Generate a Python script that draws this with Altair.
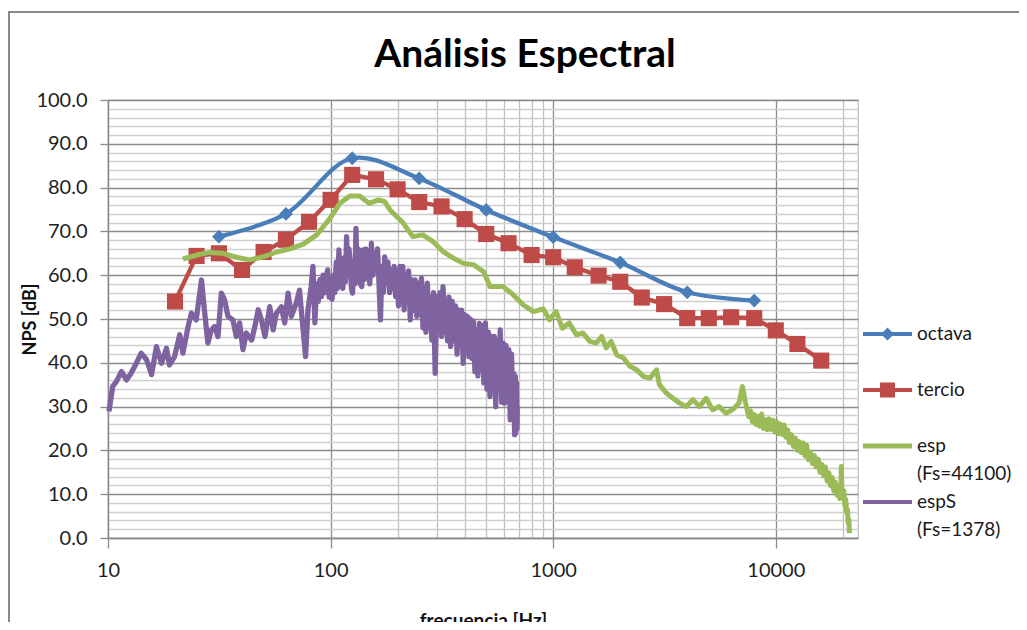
import altair as alt
import pandas as pd

# ---------------- data ----------------
oct_f = [31.5, 63, 125, 250, 500, 1000, 2000, 4000, 8000]
oct_v = [68.8, 74.0, 86.7, 82.1, 74.9, 68.7, 62.9, 56.1, 54.2]

ter_f = [20, 25, 31.5, 40, 50, 63, 80, 100, 125, 160, 200, 250, 315, 400, 500,
         630, 800, 1000, 1250, 1600, 2000, 2500, 3150, 4000, 5000, 6300, 8000,
         10000, 12500, 16000]
ter_v = [54.0, 64.4, 65.0, 61.2, 65.3, 68.1, 72.2, 77.2, 82.9, 81.9, 79.6, 76.7,
         75.7, 72.8, 69.4, 67.3, 64.6, 64.1, 61.8, 59.9, 58.5, 54.9, 53.4, 50.2,
         50.2, 50.4, 50.2, 47.4, 44.3, 40.5]

esp_f = [21.7, 25.0, 28.6, 32.9, 37.7, 43.3, 49.8, 57.2, 65.6, 75.4, 86.6, 99.4,
         110, 122, 135, 149, 164, 175, 185, 212, 234, 259, 288, 320, 356, 395,
         438, 487, 520, 596, 662, 735, 815, 903, 962, 1030, 1100, 1180, 1270,
         1360, 1460, 1560, 1650, 1730, 1820, 1930, 2070, 2210, 2370, 2540, 2720,
         2910, 3000, 3220, 3450, 3700, 3960, 4240, 4540, 4860, 5200, 5570, 5970,
         6390, 6840, 7080, 7300,
         7560, 7700, 7850, 8000, 8150, 8300, 8470, 8640, 8810, 8990, 9160, 9340,
         9530, 9720, 9910, 10100, 10300, 10500, 10700, 10900, 11100, 11300, 11500,
         11750, 12000, 12250, 12500, 12750, 13000, 13250, 13500, 13750, 14000,
         14300, 14600, 14900, 15200, 15500, 15800, 16100, 16400, 16700, 17000,
         17300, 17600, 17900, 18200, 18500, 18800, 19100, 19400, 19600, 19700,
         19800, 20000, 20200, 20400, 20600, 20800, 21000, 21150, 21300, 21400]
esp_v = [63.7, 64.6, 65.2, 65.0, 64.1, 63.5, 64.2, 65.3, 66.0, 67.1, 69.2, 73.0,
         76.4, 78.1, 78.1, 76.4, 77.2, 76.8, 74.9, 71.9, 68.8, 69.2, 67.7, 65.4,
         63.9, 62.7, 62.4, 60.8, 57.4, 57.4, 55.5, 53.2, 51.7, 52.3, 49.8, 51.7,
         47.9, 49.1, 46.4, 46.8, 44.9, 44.5, 46.0, 43.4, 44.9, 41.8, 41.1, 39.2,
         38.4, 36.9, 36.5, 38.4, 35.0, 33.1, 31.9, 30.8, 30.0, 31.6, 30.0, 31.9,
         29.3, 30.0, 28.5, 29.3, 30.8, 34.6, 31.0,
         27.7, 29.0, 26.5, 28.2, 25.9, 27.8, 25.5, 28.3, 25.0, 27.0, 24.7, 27.2,
         24.8, 26.9, 24.2, 26.5, 23.8, 26.0, 23.6, 25.8, 23.0, 24.7, 21.8,
         23.6, 20.9, 22.8, 20.0, 22.0, 19.5, 21.7, 18.8, 21.2, 17.9,
         19.6, 17.0, 18.8, 16.2, 18.0, 15.0, 16.8, 14.2, 16.2, 13.0,
         14.9, 12.0, 13.8, 10.8, 12.8, 9.8, 11.8, 9.0, 12.0, 16.3,
         10.5, 9.5, 10.8, 7.5, 8.8, 5.8, 6.5, 3.4, 4.2, 1.1]

esps_f = [10.1, 10.5, 10.9, 11.5, 12.1, 12.7, 13.4, 14.1, 14.9, 15.7, 16.5, 17.4,
          18.3, 18.9, 19.9, 21.0, 21.7, 22.9, 23.7, 24.9, 26.3, 27.2, 28.1, 29.1,
          30.1, 31.2, 32.3, 33.4, 34.6, 36.4, 37.7, 39.0, 40.4, 41.8, 44.2, 45.7,
          47.3, 48.9, 50.7, 53.3, 55.2, 57.1, 60.1, 62.2, 64.4, 66.6, 70.1, 72.5,
          75.0, 77.2, 79.1, 81.8,
          83.3, 85, 86.5, 88, 89.5, 91, 92.5, 94, 95.5, 97, 98.5, 100, 101.5, 103,
          104.5, 106, 107.5, 109, 110.5, 112, 113.5, 115, 116.5, 118, 119.5, 121,
          122.5, 124, 125.5, 127, 128.5, 130, 131.5, 133, 134.5, 136, 138, 140,
          142, 144, 146, 148, 150, 152.5, 155, 157.5, 160, 162.5, 165, 167.5, 170,
          172.5, 175, 178, 181, 184, 187, 190, 193, 196, 199, 202, 205, 208, 211,
          214, 217, 220, 224, 228, 232, 236, 240, 244, 248, 252, 256, 260, 264,
          268, 272, 276, 280, 285, 290, 295, 300, 305, 310, 315, 320, 325, 330,
          335, 340, 346, 352, 358, 364, 370, 376, 382, 388, 394, 400, 406, 412,
          418, 424, 431, 438, 445, 452, 459, 466, 473, 480, 488, 496, 504, 512,
          520, 528, 536, 544, 552, 560, 569, 578, 587, 596, 605, 614, 623, 632,
          641, 650, 658, 665, 671, 676, 680, 684, 687, 690]
esps_v = [28.9, 34.6, 35.7, 38.0, 36.1, 37.6, 39.9, 42.2, 40.7, 37.3, 43.7, 39.9,
          43.3, 39.5, 41.4, 46.4, 42.2, 48.3, 51.3, 49.8, 58.9, 51.3, 44.5, 47.5,
          48.3, 46.0, 55.9, 54.4, 50.6, 49.8, 46.0, 49.1, 43.0, 46.8, 45.2, 48.3,
          52.1, 49.8, 46.0, 52.8, 47.5, 51.3, 52.8, 49.1, 55.9, 50.6, 53.6, 56.6,
          48.3, 41.4, 52.1, 57.4,
          62.0, 49.1, 58.0, 54.0, 59.0, 55.1, 60.0, 56.0, 59.5, 61.2, 55.0, 58.0,
          54.5, 60.0, 56.0, 63.0, 57.0, 65.8, 58.0, 62.0, 57.0, 64.0, 58.5, 68.8,
          60.0, 66.0, 62.7, 57.0, 55.9, 63.0, 58.0, 70.7, 60.0, 66.0, 62.7, 58.0,
          57.4, 65.8, 59.0, 66.0, 60.5, 64.0, 58.0, 67.3, 60.0, 65.0, 61.2, 66.0,
          58.0, 49.8, 62.0, 56.0, 64.2, 58.2, 63.0, 56.0, 61.2, 57.0, 62.0, 55.1,
          61.0, 53.0, 62.0, 55.0, 62.0, 52.1, 60.0, 56.6, 61.0, 49.8, 59.0, 52.0,
          58.9, 50.6, 58.2, 51.0, 59.3, 48.0, 57.0, 47.0, 58.2, 49.0, 55.1, 45.2,
          56.0, 37.6, 55.1, 47.5, 56.0, 46.0, 57.4, 47.0, 53.6, 45.0, 55.0, 43.7,
          54.0, 45.0, 53.0, 42.0, 52.1, 44.0, 52.0, 39.9, 51.0, 43.0, 50.6, 41.4,
          50.0, 41.0, 49.5, 38.0, 47.5, 37.0, 49.0, 38.5, 48.5, 35.4, 49.1, 34.0,
          47.0, 32.3, 46.0, 35.0, 46.0, 30.0, 45.0, 33.8, 47.5, 31.0, 44.5, 30.8,
          44.0, 32.0, 43.0, 27.0, 42.0, 29.0, 37.6, 23.6, 36.9, 24.0, 35.4, 25.0,
          30.0]

# legend rows (blank rows keep the Excel-like spacing; the Fs lines sit under their names)
legend_rows = ["octava", "_gap1", "tercio", "_gap2", "esp", "(Fs=44100)", "espS", "(Fs=1378)"]
legend_colors = ["#4A7EBB", "#ffffff", "#BE4B48", "#ffffff", "#9BBB59", "#ffffff", "#7F63A1", "#ffffff"]
blue, red, green, purple = "#4A7EBB", "#BE4B48", "#9BBB59", "#7F63A1"

x_grid_values = [10, 100, 200, 300, 400, 500, 600, 700, 800, 900, 1000, 10000, 20000]
y_grid_values = list(range(0, 101, 2))

df_oct = pd.DataFrame({"f": oct_f, "v": oct_v, "series": "octava"})
df_ter = pd.DataFrame({"f": ter_f, "v": ter_v, "series": "tercio"})
df_esp = pd.DataFrame({"f": esp_f, "v": esp_v, "series": "esp"})
df_esps = pd.DataFrame({"f": esps_f, "v": esps_v, "series": "espS"})

# legend symbol paths (line + marker); E only stretches each row to the same height
E = "M0,-1.375L0,-1.375M0,1.375L0,1.375"
legend_paths = [
    E + " M-2.45,-0.2H2.45V0.2H-2.45Z M0,-0.65L0.65,0L0,0.65L-0.65,0Z",
    E,
    E + " M-2.45,-0.2H2.45V0.2H-2.45Z M-0.75,-0.75H0.75V0.75H-0.75Z",
    E,
    E + " M-2.45,-0.25H2.45V0.25H-2.45Z",
    E,
    E + " M-2.45,-0.2H2.45V0.2H-2.45Z",
    E,
]

W, H = 750, 438
FONT = "Lato"
decade = "indexof([10,100,1000,10000], datum.value) >= 0"
major_y = "datum.value % 10 === 0"

xscale = alt.Scale(type="log", domain=[10, 23400], nice=False)
yscale = alt.Scale(domain=[0, 100], nice=False)

xaxis = alt.Axis(
    values=x_grid_values,
    labelExpr=f"{decade} ? format(datum.value, 'd') : ''",
    labelOverlap=False, labelFlush=False, labelBound=False,
    grid=True,
    gridColor={"condition": {"test": decade, "value": "#8c8c8c"}, "value": "#bdbdbd"},
    gridWidth=1.3,
    tickColor={"condition": {"test": decade, "value": "#8c8c8c"}, "value": "transparent"},
    tickSize=10, tickWidth=1.3,
    domainColor="#8c8c8c", domainWidth=1.3,
    labelFont=FONT, labelFontSize=20, labelColor="#1e1e1e", labelPadding=12,
    title="frecuencia [Hz]", titleFont=FONT, titleFontSize=19, titleFontWeight="bold",
    titleColor="#111111", titleX=375, titleY=82, titleAlign="center", titleBaseline="middle",
)
yaxis = alt.Axis(
    values=y_grid_values,
    labelExpr=f"{major_y} ? format(datum.value, '.1f') : ''",
    labelOverlap=False, labelFlush=False, labelBound=False,
    grid=True,
    gridColor={"condition": {"test": major_y, "value": "#8c8c8c"}, "value": "#cfcfcf"},
    gridWidth=1.3,
    tickColor={"condition": {"test": major_y, "value": "#8c8c8c"}, "value": "transparent"},
    tickSize=8, tickWidth=1.3,
    domainColor="#8c8c8c", domainWidth=1.3,
    labelFont=FONT, labelFontSize=20, labelColor="#1e1e1e", labelPadding=13,
    title="NPS [dB]", titleFont=FONT, titleFontSize=18, titleFontWeight="bold",
    titleColor="#111111", titleAngle=270, titleX=-78, titleY=219,
    titleAlign="center", titleBaseline="middle",
)

X = alt.X("f:Q", scale=xscale, axis=xaxis)
Y = alt.Y("v:Q", scale=yscale, axis=yaxis)

legend = alt.Legend(
    title=None, orient="none", legendX=769.5, legendY=224, padding=0,
    symbolSize=400, symbolStrokeWidth=0, symbolOpacity=1,
    labelFont=FONT, labelFontSize=19, labelColor="#1a1a1a", labelOffset=19.5,
    labelLimit=0, rowPadding=0, labelBaseline="middle",
    labelExpr="indexof(datum.label, '_') === 0 ? '' : datum.label",
)

border = alt.Chart(pd.DataFrame({"k": [0]})).mark_rect(
    fill="transparent", stroke="#8a8a8a", strokeWidth=2
).encode(x=alt.value(-99), x2=alt.value(940), y=alt.value(-88), y2=alt.value(560))

oct_line = alt.Chart(df_oct).mark_line(
    interpolate="catmull-rom", strokeWidth=4.3, color=blue
).encode(x=X, y=Y)
oct_pts = alt.Chart(df_oct).mark_point(
    shape="diamond", filled=True, size=190, opacity=1, color=blue
).encode(x=X, y=Y)
ter_line = alt.Chart(df_ter).mark_line(strokeWidth=4.3, color=red).encode(x=X, y=Y)
ter_pts = alt.Chart(df_ter).mark_square(size=260, opacity=1, color=red).encode(x=X, y=Y)
esp_line = alt.Chart(df_esp).mark_line(
    strokeWidth=5, color=green, strokeJoin="round"
).encode(x=X, y=Y)
esps_line = alt.Chart(df_esps).mark_line(
    strokeWidth=5.3, color=purple, strokeJoin="round"
).encode(x=X, y=Y)
legend_carrier = alt.Chart(df_oct).mark_point(filled=True, opacity=0).encode(
    x=X, y=Y,
    color=alt.Color("series:N", scale=alt.Scale(domain=legend_rows, range=legend_colors), legend=legend),
    shape=alt.Shape("series:N", scale=alt.Scale(domain=legend_rows, range=legend_paths), legend=legend),
)

chart = alt.layer(
    border, oct_line, oct_pts, ter_line, ter_pts, esp_line, esps_line, legend_carrier
).properties(
    width=W, height=H,
    title=alt.TitleParams(
        text="Análisis Espectral", font=FONT, fontSize=39, fontWeight="bold",
        color="#000000", anchor="middle", frame="group", dx=42, dy=119, offset=24,
        baseline="alphabetic",
    ),
    autosize=alt.AutoSizeParams(type="none"),
    padding={"left": 100, "top": 92, "right": 161, "bottom": 84},
    background="white",
).configure_view(stroke="#c4c4c4", strokeWidth=1.3)

chart.save("out.html", embed_options={"renderer": "svg", "actions": False})
